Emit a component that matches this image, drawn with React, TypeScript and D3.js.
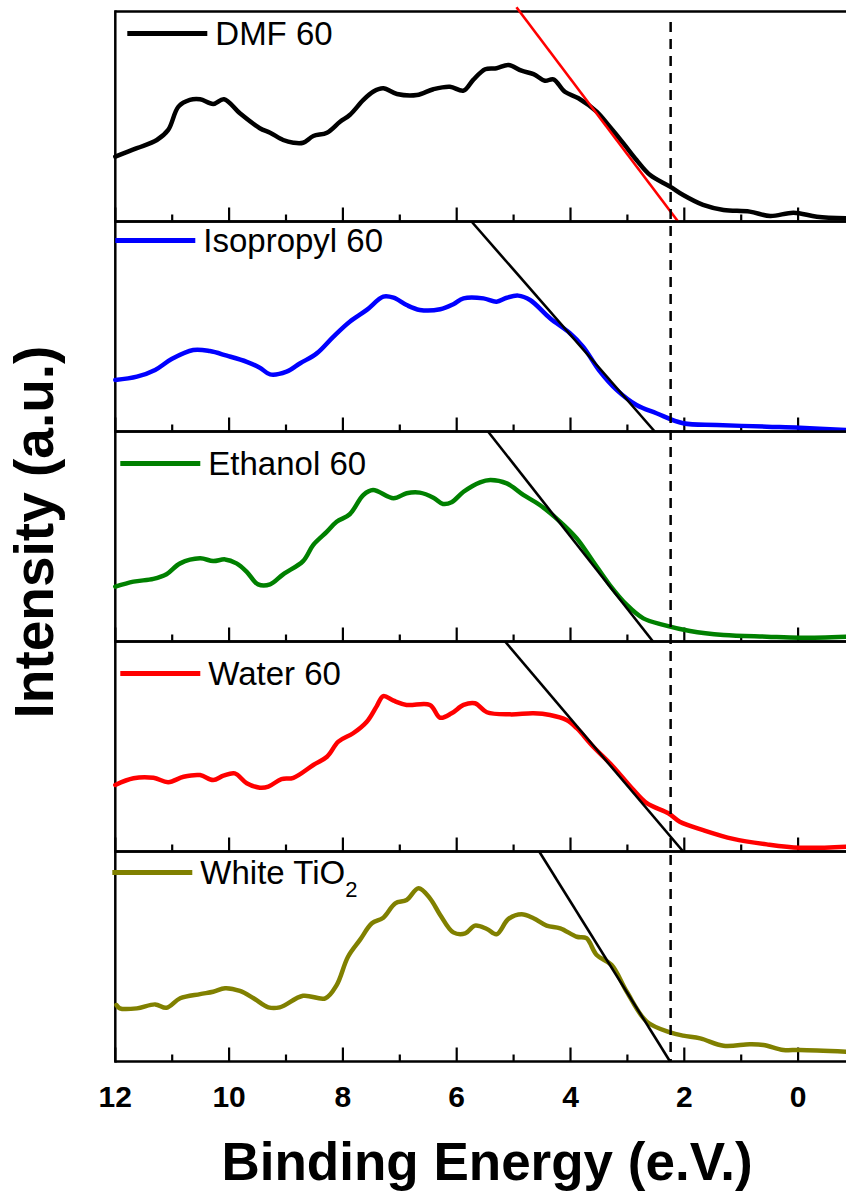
import React from 'react';
import * as d3 from 'd3';

// Valence-band spectra, binding energy (eV) vs normalised intensity per panel
const dmfEnergy = [12.0, 11.62, 11.27, 11.07, 10.89, 10.69, 10.51, 10.28, 10.09, 9.81, 9.46, 9.28, 9.05, 8.87, 8.7, 8.52, 8.28, 8.05, 7.88, 7.64, 7.47, 7.29, 7.05, 6.7, 6.41, 6.12, 5.88, 5.71, 5.5, 5.3, 5.09, 4.86, 4.65, 4.45, 4.3, 4.1, 3.86, 3.54, 3.31, 3.07, 2.84, 2.6, 2.25, 2.02, 1.67, 1.31, 0.85, 0.49, 0.08, -0.33, -0.84];
const dmfIntensity = [0.309, 0.349, 0.388, 0.436, 0.547, 0.579, 0.582, 0.56, 0.582, 0.515, 0.444, 0.423, 0.388, 0.375, 0.375, 0.407, 0.423, 0.475, 0.507, 0.579, 0.618, 0.634, 0.607, 0.602, 0.63, 0.642, 0.623, 0.674, 0.725, 0.73, 0.745, 0.718, 0.702, 0.67, 0.677, 0.618, 0.587, 0.523, 0.451, 0.372, 0.293, 0.221, 0.166, 0.126, 0.079, 0.055, 0.047, 0.026, 0.042, 0.023, 0.015];

const isoEnergy = [12.0, 11.62, 11.3, 11.01, 10.63, 10.34, 10.04, 9.69, 9.46, 9.28, 8.99, 8.75, 8.46, 8.17, 7.88, 7.58, 7.29, 7.11, 6.88, 6.65, 6.29, 6.06, 5.88, 5.53, 5.3, 5.12, 4.92, 4.71, 4.36, 4.01, 3.78, 3.48, 3.19, 2.84, 2.49, 2.02, 1.43, 0.55, -0.03, -0.84];
const isoIntensity = [0.245, 0.261, 0.293, 0.345, 0.388, 0.383, 0.361, 0.332, 0.304, 0.272, 0.285, 0.325, 0.372, 0.451, 0.523, 0.579, 0.642, 0.637, 0.602, 0.579, 0.582, 0.606, 0.634, 0.634, 0.618, 0.637, 0.647, 0.626, 0.539, 0.468, 0.404, 0.285, 0.198, 0.126, 0.087, 0.039, 0.031, 0.023, 0.018, 0.007];

const ethEnergy = [12.0, 11.68, 11.33, 11.1, 10.86, 10.51, 10.28, 10.07, 9.87, 9.69, 9.49, 9.28, 9.05, 8.7, 8.52, 8.28, 8.11, 7.88, 7.64, 7.47, 7.11, 6.88, 6.65, 6.41, 6.24, 6.09, 5.88, 5.59, 5.41, 5.12, 4.83, 4.54, 4.18, 3.89, 3.6, 3.31, 3.01, 2.72, 2.37, 1.9, 1.31, 0.55, -0.03, -0.84];
const ethIntensity = [0.261, 0.285, 0.298, 0.32, 0.372, 0.396, 0.383, 0.391, 0.372, 0.332, 0.272, 0.272, 0.32, 0.383, 0.46, 0.523, 0.57, 0.606, 0.698, 0.721, 0.682, 0.706, 0.709, 0.685, 0.655, 0.663, 0.713, 0.758, 0.769, 0.753, 0.698, 0.65, 0.57, 0.491, 0.38, 0.269, 0.174, 0.11, 0.079, 0.05, 0.031, 0.023, 0.018, 0.023];

const waterEnergy = [12.0, 11.68, 11.33, 11.07, 10.8, 10.51, 10.28, 10.1, 9.9, 9.69, 9.46, 9.31, 9.08, 8.87, 8.52, 8.28, 8.08, 7.82, 7.58, 7.41, 7.29, 7.11, 6.88, 6.47, 6.29, 6.09, 5.88, 5.68, 5.47, 5.06, 4.65, 4.36, 4.07, 3.89, 3.6, 3.25, 2.92, 2.66, 2.28, 2.08, 1.67, 1.14, 0.55, -0.03, -0.84];
const waterIntensity = [0.317, 0.349, 0.351, 0.33, 0.356, 0.364, 0.34, 0.361, 0.372, 0.325, 0.304, 0.309, 0.345, 0.351, 0.412, 0.451, 0.523, 0.563, 0.618, 0.69, 0.74, 0.718, 0.698, 0.698, 0.637, 0.658, 0.698, 0.706, 0.663, 0.653, 0.658, 0.65, 0.626, 0.587, 0.499, 0.404, 0.301, 0.23, 0.182, 0.142, 0.102, 0.06, 0.034, 0.018, 0.023];

const tio2Energy = [11.98, 11.92, 11.62, 11.3, 11.1, 10.86, 10.51, 10.28, 10.07, 9.81, 9.57, 9.31, 9.11, 8.7, 8.31, 8.11, 7.91, 7.7, 7.49, 7.29, 7.08, 6.88, 6.67, 6.47, 6.29, 6.06, 5.85, 5.68, 5.47, 5.3, 5.09, 4.86, 4.65, 4.42, 4.18, 3.89, 3.72, 3.54, 3.28, 3.01, 2.66, 2.25, 2.02, 1.72, 1.31, 0.85, 0.61, 0.26, -0.03, -0.84];
const tio2Intensity = [0.269, 0.253, 0.253, 0.272, 0.256, 0.301, 0.321, 0.332, 0.349, 0.336, 0.301, 0.258, 0.258, 0.313, 0.301, 0.364, 0.499, 0.579, 0.658, 0.685, 0.753, 0.769, 0.825, 0.777, 0.698, 0.615, 0.61, 0.647, 0.631, 0.606, 0.679, 0.701, 0.682, 0.647, 0.634, 0.594, 0.587, 0.507, 0.46, 0.332, 0.19, 0.139, 0.123, 0.11, 0.075, 0.082, 0.079, 0.055, 0.055, 0.047];

const seriesEnergies = [dmfEnergy, isoEnergy, ethEnergy, waterEnergy, tio2Energy];
const seriesIntensities = [dmfIntensity, isoIntensity, ethIntensity, waterIntensity, tio2Intensity];
const seriesNames = ['DMF 60', 'Isopropyl 60', 'Ethanol 60', 'Water 60', 'White TiO'];
const seriesSubscripts = ['', '', '', '', '2'];
const seriesColors = ['#000000', '#0000ff', '#008000', '#ff0000', '#808000'];

// Linear extrapolation of the leading edge: [energy, intensity] at both ends
const tangentStart = [[4.95, 1.02], [5.74, 1], [5.45, 1], [5.15, 1], [4.55, 1]];
const tangentEnd = [[2.11, 0], [2.52, 0], [2.55, 0], [2.02, 0], [2.25, 0]];
const tangentColors = ['#ff0000', '#000000', '#000000', '#000000', '#000000'];

const valenceEdge = 2.24;
const majorTicks = [12, 10, 8, 6, 4, 2, 0];
const minorTicks = [11, 9, 7, 5, 3, 1];

// Legend placement inside each panel (offset from the panel's left/top)
const legendLayout = [
  { dx: 12, dy: 22 },
  { dx: 0, dy: 19 },
  { dx: 5, dy: 32 },
  { dx: 5, dy: 32 },
  { dx: -3, dy: 21 },
];

const W = 846;
const H = 1193;
const left = 115.3;
const firstTop = 11.5;
const panelH = 210;
const font = '"Liberation Sans", Arial, Helvetica, sans-serif';

export default function App() {
  const x = d3.scaleLinear().domain([12, -1]).range([left, left + 13 * 56.9]);
  const nPanels = seriesNames.length;
  const lastBottom = firstTop + nPanels * panelH;

  return (
    <svg
      width={W}
      height={H}
      style={{ position: 'absolute', left: 0, top: 0, background: '#fff', display: 'block' }}
      fontFamily={font}
    >
      <rect x={0} y={0} width={W} height={H} fill="#fff" />
      {seriesNames.map((name, i) => {
        const top = firstTop + i * panelH;
        const bottom = top + panelH;
        const y = d3.scaleLinear().domain([0, 1]).range([bottom, top]);
        const pts = seriesEnergies[i].map((e, k) => [e, seriesIntensities[i][k]] as [number, number]);
        const line = d3
          .line<[number, number]>()
          .x((d) => x(d[0]))
          .y((d) => y(d[1]))
          .curve(d3.curveCatmullRom.alpha(0.5));
        const lg = legendLayout[i];
        const lx = left + lg.dx;
        const ly = top + lg.dy;
        return (
          <g key={name}>
            {/* frame */}
            <line x1={left} x2={W + 20} y1={top} y2={top} stroke="#000" strokeWidth={2.5} />
            <line x1={left} x2={W + 20} y1={bottom} y2={bottom} stroke="#000" strokeWidth={2.5} />
            <line x1={left} x2={left} y1={top - 1.25} y2={bottom + 1.25} stroke="#000" strokeWidth={2.5} />
            {/* inward ticks on the bottom axis */}
            {majorTicks.map((t) => (
              <line key={'M' + t} x1={x(t)} x2={x(t)} y1={bottom} y2={bottom - 14} stroke="#000" strokeWidth={2.2} />
            ))}
            {minorTicks.map((t) => (
              <line key={'m' + t} x1={x(t)} x2={x(t)} y1={bottom} y2={bottom - 7} stroke="#000" strokeWidth={2.2} />
            ))}
            {/* spectrum */}
            <path
              d={line(pts) || ''}
              fill="none"
              stroke={seriesColors[i]}
              strokeWidth={4.5}
              strokeLinejoin="round"
              strokeLinecap="round"
            />
            {/* leading-edge fit */}
            <line
              x1={x(tangentStart[i][0])}
              y1={y(tangentStart[i][1])}
              x2={x(tangentEnd[i][0])}
              y2={y(tangentEnd[i][1])}
              stroke={tangentColors[i]}
              strokeWidth={2.6}
            />
            {/* legend */}
            <line x1={lx} x2={lx + 80} y1={ly} y2={ly} stroke={seriesColors[i]} strokeWidth={5} />
            <text x={lx + 88} y={ly + 11.5} fontSize={33} fill="#000">
              {name}
              {seriesSubscripts[i] && (
                <tspan fontSize={22} dy={13}>
                  {seriesSubscripts[i]}
                </tspan>
              )}
            </text>
          </g>
        );
      })}
      {/* valence band edge marker */}
      <line
        x1={x(valenceEdge)}
        x2={x(valenceEdge)}
        y1={firstTop + 10.5}
        y2={lastBottom}
        stroke="#000"
        strokeWidth={2.5}
        strokeDasharray="10,7"
      />
      {/* tick labels */}
      {majorTicks.map((t) => (
        <text
          key={'lbl' + t}
          x={x(t)}
          y={lastBottom + 45}
          fontSize={30}
          fontWeight="bold"
          textAnchor="middle"
          fill="#000"
        >
          {t}
        </text>
      ))}
      <text
        x={487}
        y={1180}
        fontSize={53}
        fontWeight="bold"
        textAnchor="middle"
        fill="#000"
      >
        Binding Energy (e.V.)
      </text>
      <text
        transform={`translate(53,${532}) rotate(-90)`}
        fontSize={55}
        fontWeight="bold"
        textAnchor="middle"
        fill="#000"
      >
        Intensity (a.u.)
      </text>
    </svg>
  );
}
